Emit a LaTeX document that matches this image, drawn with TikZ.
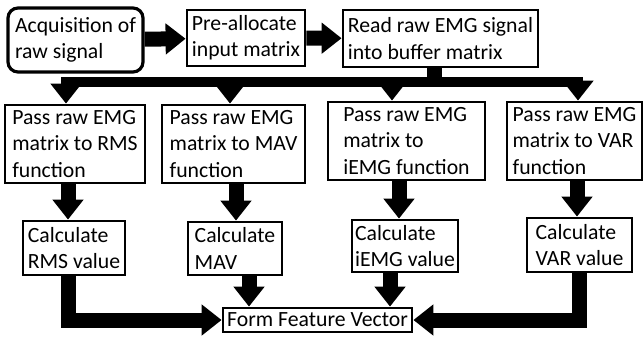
\documentclass[tikz,border=0pt]{standalone}
\usepackage{fontspec}
\setmainfont{Carlito}
\usetikzlibrary{arrows.meta}

\begin{document}
\begin{tikzpicture}[
    x=1bp, y=-1bp,
    >={Triangle[length=20bp,width=30bp]},
    every node/.style={font=\fontsize{21.8}{26.5}\selectfont},
    procbox/.style={rectangle,draw=black,line width=2.8bp,fill=white,
                  inner xsep=3bp,inner ysep=1bp,align=left},
    srcbox/.style={procbox,rounded corners=10bp,line width=3.2bp},
    arr/.style={->,line width=15bp,black},
    busline/.style={line width=10bp,black,line cap=rect},
    busarr/.style={->,line width=10bp,black}
  ]
  \useasboundingbox (0,0) rectangle (643,341);
  %% top row
  \node[srcbox,minimum width=135bp,minimum height=64bp] (acq) at (75.5,40)
        {Acquisition of\\raw signal};
  \node[procbox,minimum width=118bp,minimum height=56bp] (pre) at (246,38)
        {Pre-allocate\\input matrix};
  \node[procbox,minimum width=195bp,minimum height=57bp] (read) at (440.5,38.5)
        {Read raw EMG signal\\into buffer matrix};
  %% feature functions
  \node[procbox,minimum width=140bp,minimum height=78bp] (p1) at (75,144)
        {Pass raw EMG\\matrix to RMS\\function};
  \node[procbox,minimum width=143bp,minimum height=78bp] (p2) at (233.5,144)
        {Pass raw EMG\\matrix to MAV\\function};
  \node[procbox,minimum width=157bp,minimum height=78bp] (p3) at (406.5,141)
        {Pass raw EMG\\matrix to\\iEMG function};
  \node[procbox,minimum width=135bp,minimum height=78bp] (p4) at (574.5,141)
        {Pass raw EMG\\matrix to VAR\\function};
  %% feature values
  \node[procbox,minimum width=102bp,minimum height=54bp] (c1) at (74,248)
        {Calculate\\RMS value};
  \node[procbox,minimum width=94bp,minimum height=53bp] (c2) at (235,248.5)
        {Calculate\\MAV};
  \node[procbox,minimum width=106bp,minimum height=52bp] (c3) at (405,246)
        {Calculate\\iEMG value};
  \node[procbox,minimum width=105bp,minimum height=54bp] (c4) at (579.5,245)
        {Calculate\\VAR value};
  \node[procbox,minimum width=189bp,minimum height=24bp] (form) at (317.5,320)
        {Form Feature Vector};
  %% flow
  \draw[arr] (acq) -- (pre);
  \draw[arr] (pre) -- (read);
  \coordinate (b1) at (66,82);
  \coordinate (b2) at (230,82);
  \coordinate (b3) at (392,82);
  \coordinate (b4) at (578,82);
  \draw[arr,-] ([xshift=-6.5bp]read.south) -- ([xshift=-6.5bp]read.south |- b1);
  \draw[busline] (b1) -- (b4);
  \foreach \b/\p in {b1/p1, b2/p2, b3/p3, b4/p4}
    \draw[busarr] (\b) -- (\b |- \p.north);
  \foreach \a/\b/\s in {p1/c1/-7, p2/c2/2.5, p3/c3/-7.5, p4/c4/2.5}
    \draw[arr] ([xshift=\s bp]\a.south) -- ([xshift=\s bp]\a.south |- \b.north);
  \draw[arr] ([xshift=-6bp]c1.south) |- (form.west);
  \draw[arr] ([xshift=14bp]c2.south) -- ([xshift=14bp]c2.south |- form.north);
  \draw[arr] ([xshift=-15bp]c3.south) -- ([xshift=-15bp]c3.south |- form.north);
  \draw[arr] (c4.south) |- (form.east);
\end{tikzpicture}
\end{document}
